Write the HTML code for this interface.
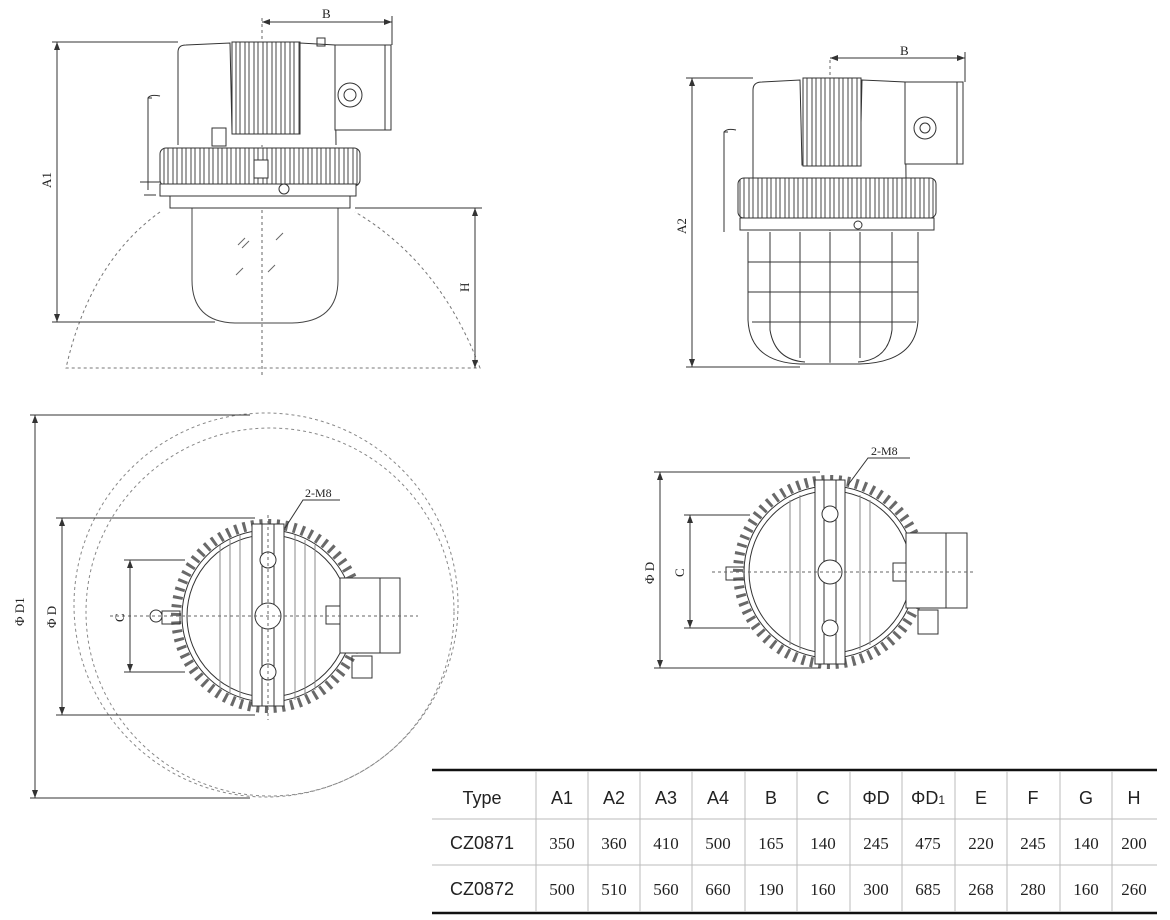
<!DOCTYPE html>
<html><head><meta charset="utf-8"><style>
html,body{margin:0;padding:0;background:#fff;}
svg{display:block}
text{font-family:"Liberation Serif",serif;fill:#222}
.t{font-family:"Liberation Sans",sans-serif;font-size:18px}
.n{font-family:"Liberation Serif",serif;font-size:17px}
</style></head><body>
<svg width="1170" height="920" viewBox="0 0 1170 920" xmlns="http://www.w3.org/2000/svg">
<defs>
<pattern id="vf" width="9" height="10" patternUnits="userSpaceOnUse">
<rect width="9" height="10" fill="#fff"/><line x1="2" y1="0" x2="2" y2="10" stroke="#444" stroke-width="1"/><line x1="6" y1="0" x2="6" y2="10" stroke="#444" stroke-width="1"/></pattern>
<marker id="ar" markerWidth="8" markerHeight="6" refX="8" refY="3" orient="auto-start-reverse" markerUnits="userSpaceOnUse"><path d="M0,0 L8,3 L0,6z" fill="#333"/></marker>
</defs>
<g fill="none" stroke="#333" stroke-width="1">

<!-- ===== TOP LEFT ===== -->
<line x1="262" y1="18" x2="262" y2="376" stroke-dasharray="3,3" stroke="#666"/>
<path d="M160,212 Q90,262 66,368 L480,368 Q440,262 355,212" stroke-dasharray="3,3" stroke="#777"/>
<path d="M192,208 L192,280 Q192,322 235,323 L292,323 Q338,322 338,280 L338,208" stroke="#444"/>
<g stroke="#666"><line x1="238" y1="245" x2="245" y2="238"/><line x1="242" y1="248" x2="249" y2="241"/><line x1="276" y1="240" x2="283" y2="233"/><line x1="268" y1="272" x2="275" y2="265"/><line x1="236" y1="275" x2="243" y2="268"/></g>
<path d="M178,145 L178,52 Q178,45 186,45 L230,43 L232,132 L298,132 L300,43 L335,45 L336,145" fill="#fff"/>
<rect x="232" y="42" width="68" height="92" fill="url(#vf)"/>
<rect x="335" y="45" width="56" height="85" fill="#fff"/>
<line x1="385" y1="45" x2="385" y2="130"/>
<circle cx="350" cy="95" r="12"/><circle cx="350" cy="95" r="6"/>
<rect x="317" y="38" width="8" height="8"/>
<rect x="212" y="128" width="14" height="18"/>
<rect x="160" y="148" width="200" height="38" rx="6" fill="url(#vf)"/>
<rect x="160" y="184" width="196" height="12" fill="#fff"/>
<rect x="170" y="196" width="180" height="12" fill="#fff"/>
<rect x="254" y="160" width="14" height="18" fill="#fff"/>
<circle cx="284" cy="189" r="5" fill="#fff"/>
<path d="M152,98 L148,98 L148,190 M148,98 Q150,94 160,96" />
<path d="M144,195 L156,195 M140,182 L160,182"/>
<line x1="57" y1="42" x2="57" y2="322" marker-start="url(#ar)" marker-end="url(#ar)"/>
<line x1="52" y1="42" x2="178" y2="42"/><line x1="52" y1="322" x2="215" y2="322"/>
<line x1="262" y1="22" x2="392" y2="22" marker-start="url(#ar)" marker-end="url(#ar)"/>
<line x1="392" y1="16" x2="392" y2="45"/>
<line x1="475" y1="208" x2="475" y2="368" marker-start="url(#ar)" marker-end="url(#ar)"/>
<line x1="355" y1="208" x2="482" y2="208"/>

<!-- ===== TOP RIGHT ===== -->
<line x1="830" y1="60" x2="830" y2="365" stroke-dasharray="3,3" stroke="#666"/>
<path d="M753,178 L753,90 Q753,82 762,82 L800,80 L802,165 L860,165 L862,80 L905,82 L906,178" fill="#fff"/>
<rect x="803" y="78" width="58" height="88" fill="url(#vf)"/>
<rect x="905" y="82" width="58" height="82" fill="#fff"/><line x1="957" y1="82" x2="957" y2="164"/>
<circle cx="925" cy="128" r="11"/><circle cx="925" cy="128" r="5"/>
<rect x="738" y="178" width="198" height="40" rx="6" fill="url(#vf)"/>
<rect x="740" y="218" width="194" height="12" fill="#fff"/>
<circle cx="858" cy="225" r="4"/>
<path d="M728,132 L724,132 L724,232 M724,132 Q727,128 736,130"/>
<path d="M748,232 L748,320 Q750,362 800,364 L860,364 Q916,362 918,320 L918,232" />
<path d="M770,232 L770,330 Q775,360 805,362 M800,232 L800,358 M830,232 L830,362 M860,232 L860,358 M892,232 L892,330 Q888,360 858,362"/>
<path d="M748,262 L918,262 M748,292 L918,292 M752,322 L916,322"/>
<line x1="692" y1="78" x2="692" y2="367" marker-start="url(#ar)" marker-end="url(#ar)"/>
<line x1="686" y1="78" x2="753" y2="78"/><line x1="686" y1="367" x2="800" y2="367"/>
<line x1="830" y1="58" x2="965" y2="58" marker-start="url(#ar)" marker-end="url(#ar)"/>
<line x1="965" y1="52" x2="965" y2="82"/>

<!-- ===== BOTTOM LEFT ===== -->
<circle cx="266" cy="605" r="192" stroke-dasharray="3,3" stroke="#888"/>
<circle cx="270" cy="612" r="184" stroke-dasharray="3,3" stroke="#888"/>
<circle cx="268" cy="616" r="92" stroke="#444" stroke-width="10" stroke-dasharray="3,5.5" stroke-opacity="0.8"/>
<circle cx="268" cy="616" r="86" fill="#fff"/>
<circle cx="268" cy="616" r="81"/>
<g stroke="#888"><line x1="220" y1="545" x2="220" y2="690"/><line x1="230" y1="540" x2="230" y2="695"/><line x1="305" y1="540" x2="305" y2="695"/><line x1="315" y1="545" x2="315" y2="690"/><line x1="240" y1="535" x2="240" y2="700"/><line x1="295" y1="535" x2="295" y2="700"/></g>
<rect x="252" y="524" width="32" height="182" fill="#fff"/>
<line x1="262" y1="524" x2="262" y2="706"/><line x1="274" y1="524" x2="274" y2="706"/>
<circle cx="268" cy="560" r="8" fill="#fff"/><circle cx="268" cy="616" r="13" fill="#fff"/><circle cx="268" cy="672" r="8" fill="#fff"/>
<rect x="340" y="578" width="60" height="75" fill="#fff"/><line x1="380" y1="578" x2="380" y2="653"/>
<rect x="352" y="656" width="20" height="22"/>
<path d="M162,611 L180,611 L180,624 L162,624 Z"/><circle cx="156" cy="616" r="6"/>
<rect x="326" y="606" width="14" height="18"/>
<line x1="110" y1="616" x2="418" y2="616" stroke-dasharray="3,3" stroke="#666"/>
<line x1="268" y1="515" x2="268" y2="720" stroke-dasharray="3,3" stroke="#666"/>
<line x1="35" y1="415" x2="35" y2="798" marker-start="url(#ar)" marker-end="url(#ar)"/>
<line x1="30" y1="415" x2="250" y2="415"/><line x1="30" y1="798" x2="250" y2="798"/>
<line x1="62" y1="518" x2="62" y2="715" marker-start="url(#ar)" marker-end="url(#ar)"/>
<line x1="56" y1="518" x2="255" y2="518"/><line x1="56" y1="715" x2="255" y2="715"/>
<line x1="130" y1="560" x2="130" y2="672" marker-start="url(#ar)" marker-end="url(#ar)"/>
<line x1="124" y1="560" x2="185" y2="560"/><line x1="124" y1="672" x2="185" y2="672"/>
<path d="M285,528 L303,500 L340,500"/>

<!-- ===== BOTTOM RIGHT ===== -->
<circle cx="830" cy="572" r="92" stroke="#444" stroke-width="10" stroke-dasharray="3,5.5" stroke-opacity="0.8"/>
<circle cx="830" cy="572" r="86" fill="#fff"/>
<circle cx="830" cy="572" r="81"/>
<g stroke="#888"><line x1="790" y1="500" x2="790" y2="645"/><line x1="800" y1="495" x2="800" y2="650"/><line x1="860" y1="495" x2="860" y2="650"/><line x1="870" y1="500" x2="870" y2="645"/></g>
<rect x="815" y="480" width="30" height="184" fill="#fff"/>
<line x1="824" y1="480" x2="824" y2="664"/><line x1="836" y1="480" x2="836" y2="664"/>
<circle cx="830" cy="514" r="8" fill="#fff"/><circle cx="830" cy="572" r="12" fill="#fff"/><circle cx="830" cy="628" r="8" fill="#fff"/>
<rect x="906" y="533" width="61" height="75" fill="#fff"/><line x1="946" y1="533" x2="946" y2="608"/>
<rect x="918" y="610" width="20" height="24"/>
<rect x="893" y="563" width="13" height="18"/>
<path d="M726,567 L744,567 L744,580 L726,580Z"/>
<line x1="712" y1="572" x2="975" y2="572" stroke-dasharray="3,3" stroke="#666"/>
<line x1="660" y1="472" x2="660" y2="668" marker-start="url(#ar)" marker-end="url(#ar)"/>
<line x1="654" y1="472" x2="820" y2="472"/><line x1="654" y1="668" x2="820" y2="668"/>
<line x1="690" y1="515" x2="690" y2="628" marker-start="url(#ar)" marker-end="url(#ar)"/>
<line x1="684" y1="515" x2="750" y2="515"/><line x1="684" y1="628" x2="750" y2="628"/>
<path d="M848,485 L868,458 L910,458"/>

<!-- ===== TABLE ===== -->
<line x1="432" y1="770" x2="1157" y2="770" stroke="#111" stroke-width="2.5"/>
<line x1="432" y1="913" x2="1157" y2="913" stroke="#111" stroke-width="2.5"/>
<line x1="432" y1="819" x2="1157" y2="819" stroke="#bbb"/>
<line x1="432" y1="865" x2="1157" y2="865" stroke="#bbb"/>
<g stroke="#bbb">
<line x1="536" y1="771" x2="536" y2="912"/><line x1="588" y1="771" x2="588" y2="912"/><line x1="640" y1="771" x2="640" y2="912"/><line x1="692" y1="771" x2="692" y2="912"/><line x1="745" y1="771" x2="745" y2="912"/><line x1="797" y1="771" x2="797" y2="912"/><line x1="850" y1="771" x2="850" y2="912"/><line x1="902" y1="771" x2="902" y2="912"/><line x1="955" y1="771" x2="955" y2="912"/><line x1="1007" y1="771" x2="1007" y2="912"/><line x1="1060" y1="771" x2="1060" y2="912"/><line x1="1112" y1="771" x2="1112" y2="912"/>
</g>
</g>

<g font-size="13">
<text x="322" y="18">B</text>
<text x="900" y="55">B</text>
<text transform="translate(51,188) rotate(-90)">A1</text>
<text transform="translate(686,234) rotate(-90)">A2</text>
<text transform="translate(469,292) rotate(-90)">H</text>
<text transform="translate(24,626) rotate(-90)">Φ D1</text>
<text transform="translate(56,628) rotate(-90)">Φ D</text>
<text transform="translate(124,622) rotate(-90)">C</text>
<text transform="translate(654,584) rotate(-90)">Φ D</text>
<text transform="translate(684,577) rotate(-90)">C</text>
<text x="305" y="497" font-size="12">2-M8</text>
<text x="871" y="455" font-size="12">2-M8</text>
</g>
<g text-anchor="middle">
<text class="t" x="482" y="804">Type</text>
<text class="t" x="562" y="804">A1</text><text class="t" x="614" y="804">A2</text><text class="t" x="666" y="804">A3</text><text class="t" x="718" y="804">A4</text><text class="t" x="771" y="804">B</text><text class="t" x="823" y="804">C</text><text class="t" x="876" y="804">ΦD</text><text class="t" x="928" y="804">ΦD<tspan font-size="12">1</tspan></text><text class="t" x="981" y="804">E</text><text class="t" x="1033" y="804">F</text><text class="t" x="1086" y="804">G</text><text class="t" x="1134" y="804">H</text>
<text class="t" x="482" y="849">CZ0871</text>
<text class="n" x="562" y="849">350</text><text class="n" x="614" y="849">360</text><text class="n" x="666" y="849">410</text><text class="n" x="718" y="849">500</text><text class="n" x="771" y="849">165</text><text class="n" x="823" y="849">140</text><text class="n" x="876" y="849">245</text><text class="n" x="928" y="849">475</text><text class="n" x="981" y="849">220</text><text class="n" x="1033" y="849">245</text><text class="n" x="1086" y="849">140</text><text class="n" x="1134" y="849">200</text>
<text class="t" x="482" y="895">CZ0872</text>
<text class="n" x="562" y="895">500</text><text class="n" x="614" y="895">510</text><text class="n" x="666" y="895">560</text><text class="n" x="718" y="895">660</text><text class="n" x="771" y="895">190</text><text class="n" x="823" y="895">160</text><text class="n" x="876" y="895">300</text><text class="n" x="928" y="895">685</text><text class="n" x="981" y="895">268</text><text class="n" x="1033" y="895">280</text><text class="n" x="1086" y="895">160</text><text class="n" x="1134" y="895">260</text>
</g>
</svg>
</body></html>
